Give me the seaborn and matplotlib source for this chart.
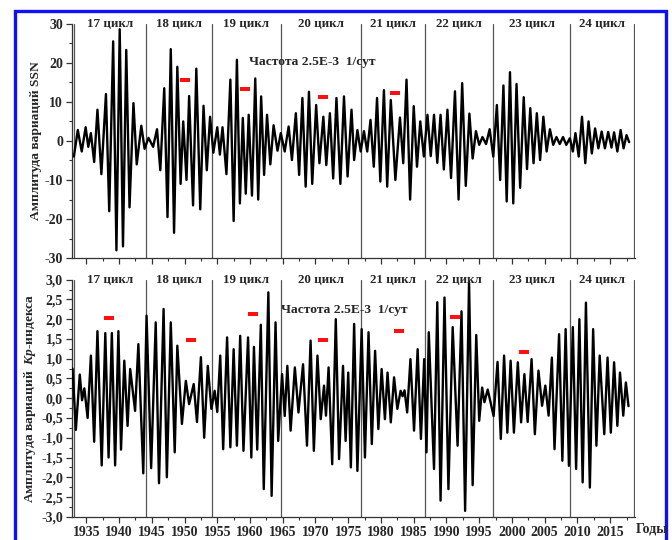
import numpy as np
import matplotlib
matplotlib.use('Agg')
import matplotlib.pyplot as plt
import matplotlib.patches as patches
from matplotlib.ticker import MultipleLocator, FuncFormatter
import seaborn as sns

# SSN band-pass variations: alternating extrema (year, value)
ssn_years = [1933.1, 1933.7, 1934.3, 1934.9, 1935.3, 1935.7, 1936.2, 1936.7, 1937.3, 1938.0,
             1938.5, 1939.1, 1939.6, 1940.1, 1940.6, 1941.1, 1941.6, 1942.2, 1942.7, 1943.4,
             1943.9, 1944.5, 1945.2, 1945.8, 1946.3, 1946.9, 1947.4, 1947.9, 1948.4, 1948.9,
             1949.4, 1949.8, 1950.3, 1950.7, 1951.3, 1951.8, 1952.4, 1952.9, 1953.4, 1953.9,
             1954.4, 1955.0, 1955.4, 1955.8, 1956.4, 1957.0, 1957.5, 1958.0, 1958.45, 1958.9,
             1959.35, 1959.8, 1960.3, 1960.8, 1961.25, 1961.7, 1962.15, 1962.6, 1963.1, 1963.6,
             1964.2, 1964.7, 1965.3, 1965.9, 1966.4, 1967.0, 1967.5, 1968.0, 1968.5, 1969.0,
             1969.5, 1970.1, 1970.6, 1971.2, 1971.65, 1972.2, 1972.7, 1973.2, 1973.8, 1974.35,
             1974.9, 1975.5, 1975.9, 1976.4, 1976.9, 1977.4, 1977.9, 1978.4, 1978.9, 1979.4,
             1979.9, 1980.45, 1980.95, 1981.5, 1982.2, 1982.9, 1983.4, 1983.9, 1984.45, 1985.0,
             1985.5, 1986.0, 1986.55, 1987.1, 1987.6, 1988.1, 1988.6, 1989.1, 1989.6, 1990.15,
             1990.7, 1991.3, 1991.85, 1992.4, 1992.95, 1993.5, 1994.0, 1994.5, 1995.0, 1995.5,
             1996.05, 1996.6, 1997.15, 1997.7, 1998.2, 1998.7, 1999.2, 1999.7, 2000.2, 2000.7,
             2001.25, 2001.8, 2002.3, 2002.8, 2003.3, 2003.8, 2004.3, 2004.8, 2005.3, 2005.8,
             2006.3, 2006.8, 2007.3, 2007.8, 2008.3, 2008.85, 2009.3, 2009.7, 2010.2, 2010.7,
             2011.2, 2011.7, 2012.2, 2012.7, 2013.2, 2013.7, 2014.2, 2014.7, 2015.2, 2015.6,
             2016.1, 2016.6, 2017.05, 2017.5, 2017.9]
ssn_values = [-4, 2.8, -2.7, 3.5, -1.5, 2, -5.4, 8, -8.5, 12,
              -18, 25.5, -28, 28.6, -27, 23.3, -17, 9.7, -6, 3.9,
              -2, 0.8, -1.5, 3, -7.5, 13.5, -19.5, 23.5, -23.5, 19,
              -11, 5, -10, 11.5, -16.5, 18.5, -17.5, 9, -7.5, 6.2,
              -3, 3.5, -3.5, 3.5, -8.5, 15.7, -20.5, 20.8, -16, 5.9,
              -13.5, 6.7, -14, 16, -15, 11.4, -8.7, 6.7, -6, 4,
              -2.5, 2, -2.7, 3.7, -4.9, 7.1, -8.7, 11, -11.7, 12.6,
              -11, 9.2, -5.7, 6.2, -6.2, 7.1, -9.6, 11, -11, 11.4,
              -9.1, 8, -4.9, 2.8, -2.7, 2.5, -2.7, 5.4, -6.6, 11,
              -10.4, 13, -11.7, 10.5, -10, 6, -5.7, 15.7, -15, 8.9,
              -6.6, 5, -4, 6.7, -3.9, 6.7, -5.6, 6.7, -7.3, 8,
              -9.5, 12.7, -15, 14.8, -11.5, 7, -4.5, 2.5, -1, 1,
              -0.8, 3, -4, 9.2, -10, 14.2, -15.5, 17.6, -16, 14.6,
              -12, 11.2, -7.2, 8.4, -5.7, 7.1, -4.9, 6.2, -2.7, 3,
              -1, 1, -0.8, 1, -1, 0.7, -2.7, 2, -4, 6.2,
              -5.7, 5, -3.2, 3.2, -1.9, 2.4, -1.9, 2.3, -1.7, 2.2,
              -2.7, 2.8, -1.9, 1.5, -0.3]

# Kp-index band-pass variations
kp_years = [1932.9, 1933.4, 1934.0, 1934.35, 1934.7, 1935.2, 1935.7, 1936.2, 1936.7, 1937.35,
            1937.9, 1938.4, 1938.9, 1939.4, 1939.9, 1940.3, 1940.8, 1941.3, 1941.7, 1942.45,
            1942.95, 1943.7, 1944.2, 1944.9, 1945.6, 1946.1, 1946.8, 1947.3, 1947.9, 1948.5,
            1948.9, 1949.6, 1950.2, 1950.7, 1951.4, 1951.9, 1952.5, 1953.0, 1953.55, 1954.1,
            1954.6, 1955.0, 1955.45, 1955.9, 1956.5, 1957.0, 1957.5, 1958.0, 1958.5, 1959.0,
            1959.7, 1960.2, 1960.6, 1961.1, 1961.65, 1962.1, 1962.8, 1963.3, 1963.9, 1964.3,
            1964.9, 1965.3, 1965.7, 1966.2, 1966.85, 1967.4, 1968.1, 1968.7, 1969.25, 1969.75,
            1970.3, 1970.8, 1971.3, 1971.6, 1972.0, 1972.55, 1973.1, 1973.6, 1974.2, 1974.6,
            1975.0, 1975.4, 1975.9, 1976.4, 1977.05, 1977.55, 1978.1, 1978.6, 1979.1, 1979.6,
            1980.1, 1980.6, 1981.0, 1981.5, 1982.0, 1982.5, 1983.0, 1983.3, 1983.6, 1984.0,
            1984.5, 1985.05, 1985.6, 1986.1, 1986.6, 1986.95, 1987.3, 1988.1, 1988.6, 1989.1,
            1989.7, 1990.3, 1990.95, 1991.7, 1992.3, 1992.85, 1993.45, 1994.0, 1994.55, 1995.0,
            1995.45, 1995.8, 1996.3, 1997.2, 1997.8, 1998.3, 1998.8, 1999.3, 1999.8, 2000.3,
            2000.9, 2001.4, 2001.9, 2002.4, 2003.0, 2003.5, 2004.05, 2004.6, 2005.1, 2005.6,
            2006.1, 2006.5, 2007.2, 2007.7, 2008.2, 2008.7, 2009.3, 2009.8, 2010.3, 2010.8,
            2011.3, 2011.9, 2012.4, 2012.9, 2013.4, 2014.1, 2014.6, 2015.1, 2015.6, 2016.1,
            2016.5, 2017.0, 2017.4, 2017.8]
kp_values = [0.75, -0.8, 0.6, -0.05, 0.25, -0.5, 1.08, -1.1, 1.7, -1.7,
             1.65, -1.5, 1.65, -1.7, 1.7, -1.3, 0.95, -0.7, 0.74, -0.32,
             1.37, -1.9, 2.09, -1.77, 1.92, -2.15, 2.26, -2.0, 1.92, -1.37,
             1.33, -0.65, 0.44, -0.15, 0.36, -0.6, 1.04, -1.0, 0.82, -0.27,
             0.19, -0.35, 1.08, -1.29, 1.54, -1.24, 1.24, -1.2, 1.58, -1.33,
             1.54, -1.5, 1.3, -1.3, 1.86, -2.3, 2.68, -2.47, 1.92, -1.08,
             0.61, -0.45, 0.82, -0.82, 0.78, -0.36, 0.86, -1.2, 1.46, -1.33,
             1.08, -0.53, 0.32, -0.44, 0.78, -1.67, 2.0, -1.54, 0.82, -1.08,
             0.65, -1.75, 1.88, -1.84, 1.75, -1.5, 1.67, -1.16, 1.2, -0.78,
             0.74, -0.53, 0.65, -0.61, 0.53, -0.27, 0.19, 0.05, 0.2, -0.36,
             0.99, -0.82, 1.24, -1.03, 0.99, -1.37, 1.67, -1.79, 2.43, -2.59,
             2.55, -2.3, 1.8, -1.2, 2.2, -2.85, 2.95, -2.2, 1.6, -0.57,
             0.27, -0.1, 0.22, -0.45, 0.92, -1.03, 1.08, -0.87, 0.95, -0.87,
             0.91, -0.61, 0.61, -0.6, 0.99, -0.91, 0.7, -0.19, 0.32, -0.44,
             1.03, -1.29, 1.62, -1.58, 1.75, -1.71, 1.8, -1.79, 2.0, -2.13,
             2.42, -2.26, 1.75, -1.2, 1.08, -0.91, 1.03, -0.87, 0.91, -0.7,
             0.65, -0.44, 0.4, -0.2]

# red markers
ssn_mark_years = [1950.0, 1959.3, 1971.2, 1982.2]
ssn_mark_values = [15.6, 13.3, 11.3, 12.3]
kp_mark_years = [1938.4, 1951.0, 1960.4, 1971.1, 1982.7, 1991.3, 2001.8]
kp_mark_values = [2.02, 1.47, 2.12, 1.48, 1.70, 2.06, 1.16]

# solar cycle boundaries and names
cycle_bounds = [1933.1, 1944.1, 1954.2, 1964.7, 1977.0, 1986.7, 1997.1, 2008.9, 2018.6]
cycle_names = ['17 цикл', '18 цикл', '19 цикл', '20 цикл', '21 цикл', '22 цикл', '23 цикл', '24 цикл']
year_ticks = list(range(1935, 2016, 5))

sns.set_style('ticks')
plt.rcParams['font.family'] = ['Liberation Serif', 'DejaVu Serif']
plt.rcParams['font.weight'] = 'bold'
plt.rcParams['axes.unicode_minus'] = False
plt.rcParams['mathtext.fontset'] = 'custom'
plt.rcParams['mathtext.it'] = 'Liberation Serif:italic:bold'
plt.rcParams['mathtext.rm'] = 'Liberation Serif:bold'

fig = plt.figure(figsize=(6.72, 5.4), dpi=100)
ax1 = fig.add_axes([0.107, 0.522, 0.838, 0.434])
ax2 = fig.add_axes([0.107, 0.043, 0.838, 0.439])

rect_marker = [(-1, -0.45), (1, -0.45), (1, 0.45), (-1, 0.45), (-1, -0.45)]
tick_fs = 10
text_fs = 9.7


def style_axis(ax, years, values, mark_x, mark_y, ylim, major, minor):
    for b in cycle_bounds:
        ax.axvline(b, color='#555555', lw=0.9, zorder=1)
    sns.lineplot(x=years, y=values, ax=ax, color='black', lw=1.7,
                 estimator=None, sort=False, zorder=3)
    ax.scatter(mark_x, mark_y, marker=rect_marker, s=48, color='#ff1010',
               linewidths=0, zorder=4)
    for i, name in enumerate(cycle_names):
        mid = (cycle_bounds[i] + cycle_bounds[i + 1]) / 2
        ax.text(mid, ylim[1], name, ha='center', va='center', fontsize=9.4,
                fontweight='bold', zorder=5)
    ax.set_xlim(1932.8, 2018.8)
    ax.set_ylim(*ylim)
    ax.set_xticks(year_ticks)
    ax.xaxis.set_minor_locator(MultipleLocator(2.5))
    ax.yaxis.set_major_locator(MultipleLocator(major))
    ax.yaxis.set_minor_locator(MultipleLocator(minor))
    ax.tick_params(which='major', direction='out', length=4, width=0.9,
                   labelsize=tick_fs, color='#333333', pad=2.5)
    ax.tick_params(which='minor', direction='out', length=2, width=0.8,
                   color='#333333')
    for s in ['top', 'right']:
        ax.spines[s].set_visible(False)
    for s in ['left', 'bottom']:
        ax.spines[s].set_color('#333333')
        ax.spines[s].set_linewidth(0.9)
    ax.set_xlabel('')
    for lbl in ax.get_xticklabels() + ax.get_yticklabels():
        lbl.set_fontweight('bold')


style_axis(ax1, ssn_years, ssn_values, ssn_mark_years, ssn_mark_values, (-30, 30), 10, 5)
ax1.set_xticklabels([])
ax1.set_ylabel('Амплитуда вариаций SSN', fontsize=text_fs, fontweight='bold', labelpad=2)
ax1.text(1959.8, 20.3, 'Частота 2.5E-3  1/сут', fontsize=text_fs, fontweight='bold',
         ha='left', va='center', zorder=5)

style_axis(ax2, kp_years, kp_values, kp_mark_years, kp_mark_values, (-3, 3), 0.5, 0.25)
ax2.yaxis.set_major_formatter(FuncFormatter(lambda v, p: f'{v:.1f}'.replace('.', ',')))
ax2.set_xticklabels([str(y) for y in year_ticks], fontweight='bold')
for lbl in ax2.get_yticklabels():
    lbl.set_fontweight('bold')
ax2.set_ylabel('Амплитуда вариаций  $Kp$-индекса', fontsize=text_fs, fontweight='bold', labelpad=2)
ax2.text(1964.8, 2.24, 'Частота 2.5E-3  1/сут', fontsize=text_fs, fontweight='bold',
         ha='left', va='center', zorder=5)
fig.text(652 / 672, 1 - 529 / 540, 'Годы', ha='center', va='center',
         fontsize=tick_fs, fontweight='bold')

# blue frame around the figure
frame = patches.Rectangle((14.5 / 672, -0.02), (666 - 14.5) / 672, 1.0098 - 5.5 / 540,
                          transform=fig.transFigure, fill=False,
                          edgecolor='#1010f5', lw=2.4)
fig.add_artist(frame)

fig.savefig('out.png', dpi=100)
